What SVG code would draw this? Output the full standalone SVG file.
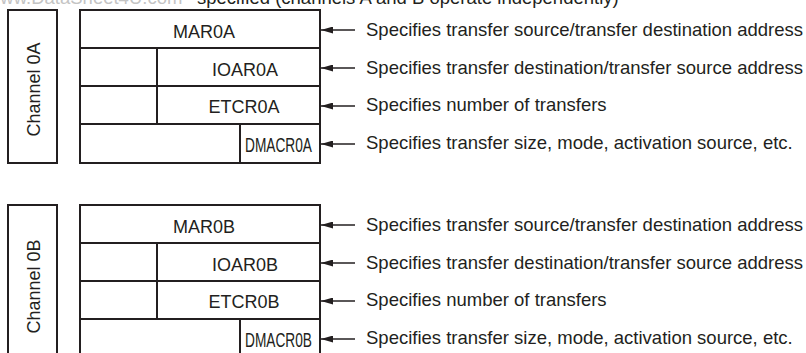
<svg xmlns="http://www.w3.org/2000/svg" width="806" height="353" viewBox="0 0 806 353">
<style>
.box{fill:#fff;stroke:#231f20;stroke-width:2}
.div{stroke:#231f20;stroke-width:2;fill:none}
.reg{font-family:"Liberation Sans",Arial,sans-serif;font-size:18px;fill:#231f20;text-anchor:middle}
.dma{font-family:"Liberation Sans",Arial,sans-serif;font-size:19.5px;fill:#231f20;text-anchor:middle}
.lbl{font-family:"Liberation Sans",Arial,sans-serif;font-size:18.5px;fill:#231f20}
.ch{font-family:"Liberation Sans",Arial,sans-serif;font-size:18px;fill:#231f20;text-anchor:middle}
.wm{font-family:"Liberation Sans",Arial,sans-serif;font-size:18.5px;fill:#c4c4c4}
.arr{stroke:#231f20;stroke-width:1.4;fill:none;marker-end:url(#ah)}
</style>
<defs>
<marker id="ah" markerUnits="userSpaceOnUse" markerWidth="13" markerHeight="7" refX="12" refY="3.5" orient="auto">
<path d="M0,0 L12,3.5 L0,7 z" fill="#231f20"/>
</marker>
</defs>
<rect width="806" height="353" fill="#fff"/>
<text class="lbl" x="197" y="4">specified (channels A and B operate independently)</text>
<text class="wm" x="-13" y="4">www.DataSheet4U.com</text>

<g id="channel0A">
<rect class="box" x="8" y="10" width="49" height="153"/>
<text class="ch" transform="translate(39.5,89.5) rotate(-90)">Channel 0A</text>
</g>
<g id="registers0A">
<rect class="box" x="80" y="10" width="240" height="153"/>
<path class="div" d="M80,48 H320 M80,86 H320 M80,124 H320 M157,48 V124 M240,124 V163"/>
<text class="reg" x="204" y="38">MAR0A</text>
<text class="reg" x="245" y="76">IOAR0A</text>
<text class="reg" x="244" y="113">ETCR0A</text>
<text class="dma" x="278.5" y="151.5" textLength="67" lengthAdjust="spacingAndGlyphs">DMACR0A</text>
</g>
<g id="labels0A">
<text class="lbl" x="366" y="36">Specifies transfer source/transfer destination address</text>
<text class="lbl" x="366" y="74">Specifies transfer destination/transfer source address</text>
<text class="lbl" x="366" y="111">Specifies number of transfers</text>
<text class="lbl" x="366" y="149">Specifies transfer size, mode, activation source, etc.</text>
</g>

<g id="channel0B">
<rect class="box" x="8" y="205" width="49" height="153"/>
<text class="ch" transform="translate(39.5,286.5) rotate(-90)">Channel 0B</text>
</g>
<g id="registers0B">
<rect class="box" x="80" y="205" width="240" height="153"/>
<path class="div" d="M80,243 H320 M80,281 H320 M80,319 H320 M157,243 V319 M240,319 V358"/>
<text class="reg" x="204" y="233">MAR0B</text>
<text class="reg" x="245" y="271">IOAR0B</text>
<text class="reg" x="244" y="308">ETCR0B</text>
<text class="dma" x="278.5" y="346.5" textLength="67" lengthAdjust="spacingAndGlyphs">DMACR0B</text>
</g>
<g id="labels0B">
<text class="lbl" x="366" y="231">Specifies transfer source/transfer destination address</text>
<text class="lbl" x="366" y="269">Specifies transfer destination/transfer source address</text>
<text class="lbl" x="366" y="306">Specifies number of transfers</text>
<text class="lbl" x="366" y="344">Specifies transfer size, mode, activation source, etc.</text>
</g>

<g id="connectors">
<line class="arr" x1="355" y1="30" x2="321" y2="30"/>
<line class="arr" x1="355" y1="68" x2="321" y2="68"/>
<line class="arr" x1="355" y1="106" x2="321" y2="106"/>
<line class="arr" x1="355" y1="144" x2="321" y2="144"/>
<line class="arr" x1="355" y1="225" x2="321" y2="225"/>
<line class="arr" x1="355" y1="263" x2="321" y2="263"/>
<line class="arr" x1="355" y1="301" x2="321" y2="301"/>
<line class="arr" x1="355" y1="339" x2="321" y2="339"/>
</g>
</svg>
